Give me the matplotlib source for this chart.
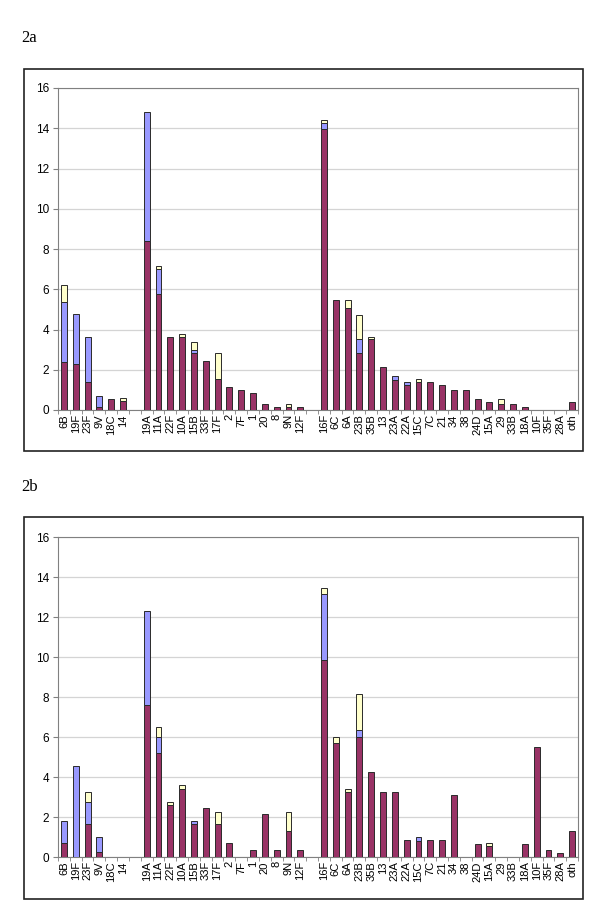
import matplotlib.pyplot as plt
import numpy as np
from matplotlib.patches import Rectangle

plt.rcParams['font.family'] = ['Liberation Sans', 'DejaVu Sans']

# serotype slots, '' = empty gap slot between groups
serotypes = ['6B', '19F', '23F', '9V', '18C', '14', '',
             '19A', '11A', '22F', '10A', '15B', '33F', '17F', '2', '7F', '1',
             '20', '8', '9N', '12F', '',
             '16F', '6C', '6A', '23B', '35B', '13', '23A', '22A', '15C', '7C',
             '21', '34', '38', '24D', '15A', '29', '33B', '18A', '10F', '35F',
             '28A', 'oth']

# panel 2a, segment heights (bottom -> top)
a_maroon = [2.40, 2.27, 1.39, 0.13, 0.56, 0.45, 0,
            8.42, 5.77, 3.65, 3.64, 2.82, 2.42, 1.53, 1.14, 0.98, 0.83,
            0.30, 0.17, 0.13, 0.17, 0,
            13.97, 5.47, 5.06, 2.82, 3.52, 2.12, 1.51, 1.24, 1.38, 1.38,
            1.24, 0.98, 0.98, 0.56, 0.41, 0.28, 0.28, 0.15, 0, 0,
            0, 0.41]
a_blue = [2.96, 2.49, 2.26, 0.58, 0, 0, 0,
          6.39, 1.23, 0, 0, 0.17, 0, 0, 0, 0, 0,
          0, 0, 0, 0, 0,
          0.29, 0, 0, 0.70, 0, 0, 0.20, 0.14, 0, 0,
          0, 0, 0, 0, 0, 0, 0, 0, 0, 0,
          0, 0]
a_yellow = [0.83, 0, 0, 0, 0, 0.13, 0,
            0, 0.16, 0, 0.15, 0.38, 0, 1.29, 0, 0, 0,
            0, 0, 0.15, 0, 0,
            0.13, 0, 0.43, 1.22, 0.13, 0, 0, 0, 0.15, 0,
            0, 0, 0, 0, 0, 0.28, 0, 0, 0, 0,
            0, 0]

# panel 2b
b_maroon = [0.68, 0, 1.64, 0.23, 0, 0, 0,
            7.58, 5.19, 2.58, 3.40, 1.64, 2.46, 1.64, 0.68, 0, 0.33,
            2.13, 0.33, 1.31, 0.33, 0,
            9.85, 5.69, 3.26, 6.02, 4.23, 3.26, 3.26, 0.84, 0.81, 0.84,
            0.84, 3.09, 0, 0.66, 0.53, 0, 0, 0.66, 5.52, 0.33,
            0.21, 1.31]
b_blue = [1.14, 4.56, 1.12, 0.75, 0, 0, 0,
          4.74, 0.83, 0, 0, 0.18, 0, 0, 0, 0, 0,
          0, 0, 0, 0, 0,
          3.28, 0, 0, 0.31, 0, 0, 0, 0, 0.17, 0,
          0, 0, 0, 0, 0, 0, 0, 0, 0, 0,
          0, 0]
b_yellow = [0, 0, 0.51, 0, 0, 0, 0,
            0, 0.46, 0.18, 0.20, 0, 0, 0.62, 0, 0, 0,
            0, 0, 0.95, 0, 0,
            0.34, 0.33, 0.16, 1.80, 0, 0, 0, 0, 0, 0,
            0, 0, 0, 0, 0.15, 0, 0, 0, 0, 0,
            0, 0]

colors = ['#993366', '#9999FF', '#FFFFCC']

W, H = 600, 917
fig = plt.figure(figsize=(W / 100, H / 100), dpi=100)


def fx(px):
    return px / W


def fy(py):
    return 1 - py / H


def panel(label, frame, plot, series):
    # outer chart frame
    x0, y0, x1, y1 = frame
    fig.patches.append(Rectangle((fx(x0), fy(y1)), fx(x1) - fx(x0), fy(y0) - fy(y1),
                                 transform=fig.transFigure, fill=False,
                                 edgecolor='#222222', linewidth=1.2))
    fig.text(fx(21), fy(label[1]), label[0], family='Liberation Serif',
             fontsize=12, va='baseline', ha='left')

    px0, py0, px1, py1 = plot
    ax = fig.add_axes([fx(px0), fy(py1), fx(px1) - fx(px0), fy(py0) - fy(py1)])
    x = np.arange(len(serotypes))
    bottom = np.zeros(len(serotypes))
    for vals, c in zip(series, colors):
        vals = np.array(vals, dtype=float)
        m = vals > 0
        ax.bar(x[m], vals[m], bottom=bottom[m], width=0.5, color=c,
               edgecolor='#2a2a2a', linewidth=0.7, zorder=3)
        bottom += vals

    ax.set_xlim(-0.5, len(serotypes) - 0.5)
    ax.set_ylim(0, 16)
    ax.set_yticks(np.arange(0, 17, 2))
    ax.yaxis.grid(True, color='#d4d4d4', linewidth=0.9, zorder=0)
    ax.set_axisbelow(True)
    ax.set_xticks(x)
    ax.set_xticklabels(serotypes, rotation=90, fontsize=8)
    ax.set_xticks(np.arange(-0.5, len(serotypes), 1), minor=True)
    ax.tick_params(axis='x', which='major', length=0, pad=3)
    ax.tick_params(axis='x', which='minor', length=3, color='#808080')
    ax.tick_params(axis='y', length=3.5, color='#808080', labelsize=8.5, pad=3)
    for s in ax.spines.values():
        s.set_color('#808080')
        s.set_linewidth(0.8)
    return ax


panel(('2a', 42), (24, 69, 583, 451), (58, 88, 578, 410),
      [a_maroon, a_blue, a_yellow])
panel(('2b', 491), (24, 517, 583, 899), (58, 537, 578, 857),
      [b_maroon, b_blue, b_yellow])

fig.savefig('out.png', dpi=100)
